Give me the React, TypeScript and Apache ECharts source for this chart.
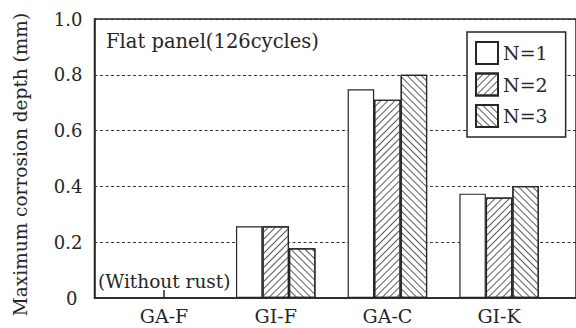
import React, { useEffect, useRef } from "react";
import * as echarts from "echarts";

const categories = ["GA-F", "GI-F", "GA-C", "GI-K"];
const seriesNames = ["N=1", "N=2", "N=3"];
const valuesN1 = [null, 0.257, 0.748, 0.374];
const valuesN2 = [null, 0.257, 0.711, 0.36];
const valuesN3 = [null, 0.178, 0.8, 0.401];
const yTicks = [0, 0.2, 0.4, 0.6, 0.8, 1.0];

const FONT = "DejaVu Serif";
const INK = "#262626";

export default function App() {
  const ref = useRef<HTMLDivElement>(null);
  useEffect(() => {
    if (!ref.current) return;
    const chart = echarts.init(ref.current, null, { renderer: "svg" });
    const hatch = (rot: number) => ({
      symbol: "rect",
      symbolSize: 1,
      dashArrayX: [1, 0],
      dashArrayY: [1, 3.6],
      rotation: rot,
      color: "#595959",
    });
    const allVals = [valuesN1, valuesN2, valuesN3];
    const decals = [null, hatch(-Math.PI / 4), hatch(Math.PI / 4)];
    const series = allVals.map((vals, si) => ({
      type: "bar",
      name: seriesNames[si],
      barWidth: 26.5,
      barGap: "0%",
      data: categories.map((_, i) => [i, vals[i]]),
      itemStyle: {
        color: "#fff",
        borderColor: INK,
        borderWidth: 1.2,
        ...(decals[si] ? { decal: decals[si] } : {}),
      },
    }));
    const left = 94.5;
    const band = 114;
    const firstCenter = 165.5;
    const right = -10;
    const xMin = -(firstCenter - left) / band;
    const xMax = xMin + (576 - left - right) / band;
    chart.setOption({
      animation: false,
      backgroundColor: "#fff",
      title: {
        text: "Flat panel(126cycles)",
        left: 106,
        top: 31,
        padding: 0,
        textStyle: { fontFamily: FONT, fontSize: 19.5, fontWeight: "normal", color: INK },
      },
      legend: {
        orient: "vertical",
        left: 467,
        top: 32,
        padding: [9, 18, 9, 8],
        itemGap: 7.5,
        itemWidth: 22,
        itemHeight: 22,
        icon: "rect",
        backgroundColor: "#fff",
        borderColor: INK,
        borderWidth: 1.5,
        borderRadius: 0,
        textStyle: { fontFamily: FONT, fontSize: 19, color: INK },
        data: seriesNames,
      },
      grid: {
        left: left,
        right: right,
        top: 19,
        bottom: 30,
        show: true,
        borderColor: INK,
        borderWidth: 1.5,
        backgroundColor: "transparent",
      },
      xAxis: {
        type: "value",
        min: xMin,
        max: xMax,
        splitLine: { show: false },
        axisLine: { show: true, onZero: false, lineStyle: { color: INK, width: 1.5 } },
        axisTick: {
          show: true,
          inside: true,
          length: 8,
          customValues: categories.map((_, i) => i),
          lineStyle: { color: INK, width: 1.5 },
        },
        axisLabel: {
          customValues: categories.map((_, i) => i),
          formatter: (v: number) => categories[Math.round(v)] ?? "",
          fontFamily: FONT,
          fontSize: 19,
          color: INK,
          margin: 8,
        },
      },
      yAxis: {
        type: "value",
        min: 0,
        max: 1.0,
        interval: 0.2,
        axisLine: { show: true, onZero: false, lineStyle: { color: INK, width: 1.5 } },
        axisTick: { show: false },
        axisLabel: {
          fontFamily: FONT,
          fontSize: 18,
          color: INK,
          margin: 12,
          formatter: (v: number) => {
            const t = yTicks.find((y) => Math.abs(y - v) < 1e-6);
            if (t === undefined) return "";
            return t === 0 ? "{z|0}" : t.toFixed(1);
          },
          rich: { z: { fontFamily: FONT, fontSize: 18, color: INK, padding: [0, 5, 0, 0] } },
        },
        splitLine: {
          show: true,
          lineStyle: { color: "#333", width: 1.2, type: [3, 2.5] },
        },
      },
      graphic: [
        {
          type: "text",
          x: 20,
          y: 164.5,
          rotation: Math.PI / 2,
          style: {
            text: "Maximum corrosion depth (mm)",
            fontFamily: FONT,
            fontSize: 18.5,
            fill: INK,
            textAlign: "center",
            textVerticalAlign: "middle",
          },
        },
        {
          type: "text",
          x: 98,
          y: 281,
          style: {
            text: "(Without rust)",
            fontFamily: FONT,
            fontSize: 18.5,
            fill: INK,
            textAlign: "left",
            textVerticalAlign: "middle",
          },
        },
      ],
      series,
    });
    return () => chart.dispose();
  }, []);
  return (
    <div
      ref={ref}
      style={{ position: "fixed", left: 0, top: 0, width: 576, height: 328, background: "#fff" }}
    />
  );
}
